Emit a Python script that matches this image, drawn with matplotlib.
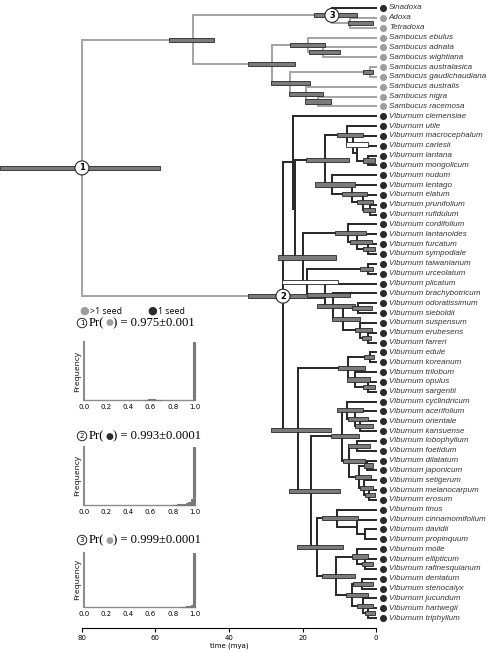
import numpy as np
import matplotlib
matplotlib.use("Agg")
import matplotlib.pyplot as plt
from matplotlib.patches import Rectangle

# ── tips, top to bottom ─────────────────────────────────────────────────────
tips = [
    "Sinadoxa", "Adoxa", "Tetradoxa",
    "Sambucus ebulus", "Sambucus adnata", "Sambucus wightiana",
    "Sambucus australasica", "Sambucus gaudichaudiana", "Sambucus australis",
    "Sambucus nigra", "Sambucus racemosa",
    "Viburnum clemensiae", "Viburnum utile", "Viburnum macrocephalum",
    "Viburnum carlesii", "Viburnum lantana", "Viburnum mongolicum",
    "Viburnum nudum", "Viburnum lentago", "Viburnum elatum",
    "Viburnum prunifolium", "Viburnum rufidulum", "Viburnum cordifolium",
    "Viburnum lantanoides", "Viburnum furcatum", "Viburnum sympodiale",
    "Viburnum taiwanianum", "Viburnum urceolatum", "Viburnum plicatum",
    "Viburnum brachybotricum", "Viburnum odoratissimum", "Viburnum sieboldii",
    "Viburnum suspensum", "Viburnum erubesens", "Viburnum farreri",
    "Viburnum edule", "Viburnum koreanum", "Viburnum trilobum",
    "Viburnum opulus", "Viburnum sargentii", "Viburnum cyclindricum",
    "Viburnum acerifolium", "Viburnum orientale", "Viburnum kansuense",
    "Viburnum lobophyllum", "Viburnum foetidum", "Viburnum dilatatum",
    "Viburnum japonicum", "Viburnum setigerum", "Viburnum melanocarpum",
    "Viburnum erosum", "Viburnum tinus", "Viburnum cinnamomifolium",
    "Viburnum davidii", "Viburnum propinquum", "Viburnum molle",
    "Viburnum ellipticum", "Viburnum rafinesquianum", "Viburnum dentatum",
    "Viburnum stenocalyx", "Viburnum jucundum", "Viburnum hartwegii",
    "Viburnum triphyllum",
]
multi_seed_tips = tips[1:11]   # Adoxa, Tetradoxa and all Sambucus

# ── internal nodes: children, age (mya) and 95% HPD (old, young) ───────────
node_names = [
    "root", "adoxoideae", "node3", "adoxa_tetra", "sambucus", "samb1",
    "samb1b", "samb2", "samb2a", "samb2b", "samb2c",
    "node2", "vib_b", "vib_c", "vib_d", "u1", "u2", "u3", "u4",
    "n1", "n2", "n3", "n4", "vib_e", "f1", "f2", "f3", "g", "h", "i", "j",
    "k", "l", "m", "m2", "vib_lw", "p", "p1", "p2", "p3", "q", "r", "r1",
    "r1b", "r1c", "r2", "r2a", "r2b", "r2c", "r2d", "r2e", "s", "t", "t2",
    "t3", "v", "v1", "v2", "w", "w1", "w2", "w3",
]
node_kids = [
    ("adoxoideae", "node2"), ("node3", "sambucus"), ("Sinadoxa", "adoxa_tetra"),
    ("Adoxa", "Tetradoxa"), ("samb1", "samb2"), ("Sambucus ebulus", "samb1b"),
    ("Sambucus adnata", "Sambucus wightiana"), ("samb2a", "samb2b"),
    ("Sambucus australasica", "Sambucus gaudichaudiana"),
    ("Sambucus australis", "samb2c"), ("Sambucus nigra", "Sambucus racemosa"),
    ("vib_b", "vib_lw"), ("Viburnum clemensiae", "vib_c"), ("vib_d", "vib_e"),
    ("u1", "n1"), ("Viburnum utile", "u2"), ("Viburnum macrocephalum", "u3"),
    ("Viburnum carlesii", "u4"), ("Viburnum lantana", "Viburnum mongolicum"),
    ("Viburnum nudum", "n2"), ("Viburnum lentago", "n3"),
    ("Viburnum elatum", "n4"), ("Viburnum prunifolium", "Viburnum rufidulum"),
    ("f1", "g"), ("Viburnum cordifolium", "f2"), ("Viburnum lantanoides", "f3"),
    ("Viburnum furcatum", "Viburnum sympodiale"), ("h", "i"),
    ("Viburnum taiwanianum", "Viburnum urceolatum"), ("Viburnum plicatum", "j"),
    ("Viburnum brachybotricum", "k"), ("l", "m"),
    ("Viburnum odoratissimum", "Viburnum sieboldii"),
    ("Viburnum suspensum", "m2"), ("Viburnum erubesens", "Viburnum farreri"),
    ("p", "q"), ("p1", "p2"), ("Viburnum edule", "Viburnum koreanum"),
    ("Viburnum trilobum", "p3"), ("Viburnum opulus", "Viburnum sargentii"),
    ("r", "s"), ("r1", "r2"), ("Viburnum cyclindricum", "r1b"),
    ("Viburnum acerifolium", "r1c"), ("Viburnum orientale", "Viburnum kansuense"),
    ("r2a", "r2b"), ("Viburnum lobophyllum", "Viburnum foetidum"),
    ("r2c", "r2d"), ("Viburnum dilatatum", "Viburnum japonicum"),
    ("Viburnum setigerum", "r2e"), ("Viburnum melanocarpum", "Viburnum erosum"),
    ("t", "v"), ("Viburnum tinus", "t2"), ("Viburnum cinnamomifolium", "t3"),
    ("Viburnum davidii", "Viburnum propinquum"), ("v1", "w"),
    ("Viburnum molle", "v2"), ("Viburnum ellipticum", "Viburnum rafinesquianum"),
    ("w1", "w2"), ("Viburnum dentatum", "Viburnum stenocalyx"),
    ("Viburnum jucundum", "w3"), ("Viburnum hartwegii", "Viburnum triphyllum"),
]
node_age = [
    80.0, 49.8, 12.0, 7.1, 28.3, 18.5, 14.4, 23.4, 1.6, 19.0, 15.8,
    25.3, 22.6, 22.0, 13.9, 7.9, 6.3, 5.2, 2.2, 12.0, 6.5, 3.5, 1.6,
    19.9, 7.6, 5.2, 2.2, 18.8, 2.2, 13.9, 11.7, 9.0, 4.9, 4.4, 2.2,
    21.2, 7.6, 1.6, 5.7, 2.2, 17.7, 9.3, 7.9, 5.7, 4.4, 7.3, 5.2, 4.6,
    2.4, 3.3, 1.9, 16.1, 10.6, 5.2, 3.0, 10.9, 5.2, 3.0, 6.5, 3.8, 3.5, 2.2,
]
hpd_old = [
    102.3, 56.3, 16.9, 7.6, 34.8, 23.4, 18.2, 28.6, 3.5, 23.7, 19.3,
    34.8, np.nan, np.nan, 19.0, 10.6, 8.2, np.nan, 3.5, 16.6, 9.3, 5.2, 3.5,
    26.7, 11.2, 7.1, 3.5, 25.6, 4.4, 18.8, 16.1, 12.0, 6.5, 5.7, 3.8,
    28.6, 10.3, 3.3, 7.9, 3.5, 23.7, 12.2, 10.6, 7.6, 5.7, 9.0, 7.6, 5.7,
    3.3, 4.4, 3.0, 21.5, 14.7, np.nan, np.nan, 14.7, 6.5, 3.8, 8.2, 6.3, 5.2, 3.0,
]
hpd_young = [
    58.8, 44.1, 5.2, 0.8, 22.0, 13.9, 9.8, 18.0, 0.8, 14.4, 12.2,
    14.4, np.nan, np.nan, 7.3, 3.5, 2.2, np.nan, 0.3, 5.7, 2.4, 0.8, 0.3,
    10.9, 2.7, 1.1, 0.3, 10.3, 0.8, 7.1, 5.7, 4.4, 1.1, 1.1, 1.4,
    12.2, 3.0, 0.5, 1.6, 0.3, 9.8, 4.6, 3.5, 2.2, 0.8, 3.0, 1.6, 1.4,
    0.8, 0.8, 0.3, 9.0, 4.9, np.nan, np.nan, 5.7, 2.2, 0.8, 2.2, 0.8, 0.8, 0.3,
]
open_bar_nodes = ["u2", "g"]
grey_branches = multi_seed_tips + [
    "adoxoideae", "node3", "adoxa_tetra", "sambucus", "samb1", "samb1b",
    "samb2", "samb2a", "samb2b", "samb2c", "node2",
]
numbered_nodes = {"root": "1", "node2": "2", "node3": "3"}

# ── ancestral-state histograms (bin left edge, relative frequency) ──────────
hist_titles = ["0.975\u00b10.001", "0.993\u00b10.0001", "0.999\u00b10.0001"]
hist_state_multi = [True, False, True]
hist1_left = [0.54, 0.56, 0.58, 0.60, 0.62, 0.64, 0.66, 0.68, 0.98]
hist1_freq = [0.005, 0.008, 0.01, 0.012, 0.01, 0.008, 0.006, 0.004, 1.0]
hist2_left = [0.78, 0.80, 0.82, 0.84, 0.86, 0.88, 0.90, 0.92, 0.94, 0.96, 0.98]
hist2_freq = [0.004, 0.006, 0.008, 0.01, 0.013, 0.017, 0.022, 0.03, 0.05, 0.11, 1.0]
hist3_left = [0.86, 0.88, 0.90, 0.92, 0.94, 0.96, 0.98]
hist3_freq = [0.004, 0.005, 0.007, 0.01, 0.015, 0.04, 1.0]
BIN_W = 0.02

GREY = "#a3a3a3"
DARK = "#262626"
BAR = "#7b7b7b"
W, H = 496, 652


def fx(px):
    return px / W


def fy(py):
    return 1 - py / H


kids = dict(zip(node_names, node_kids))
age = {t: 0.0 for t in tips}
age.update(dict(zip(node_names, node_age)))
ypos = {t: float(i) for i, t in enumerate(tips)}


def place(n):
    if n not in ypos:
        a, b = kids[n]
        ypos[n] = (place(a) + place(b)) / 2
    return ypos[n]


place("root")

fig = plt.figure(figsize=(W / 100, H / 100), dpi=100)
ax = fig.add_axes([0, 0, 1, 1])
ax.set_xlim(102.3, -32.65)
ax.set_ylim(65.45, -0.813)
ax.axis("off")

# branches
for n in node_names:
    for c in kids[n]:
        col = GREY if c in grey_branches else DARK
        ax.plot([age[n], age[n], age[c]], [ypos[n], ypos[c], ypos[c]],
                color=col, lw=1.4, solid_joinstyle="miter",
                solid_capstyle="projecting", zorder=1)

# HPD bars
for n, old, young in zip(node_names, hpd_old, hpd_young):
    if np.isnan(old):
        continue
    face = "white" if n in open_bar_nodes else BAR
    ax.barh(ypos[n], old - young, left=young, height=0.42, color=face,
            edgecolor=DARK, linewidth=0.6, zorder=2)

# numbered nodes
for n, lab in numbered_nodes.items():
    ax.text(age[n], ypos[n], lab, ha="center", va="center", fontsize=6,
            fontweight="bold", family="DejaVu Sans", zorder=4,
            bbox=dict(boxstyle="circle,pad=0.3", fc="white", ec=DARK, lw=0.8))

# tip dots and names
for t in tips:
    col = "#9e9e9e" if t in multi_seed_tips else "#2b2b2b"
    ax.scatter(-1.9, ypos[t], s=26, color=col, zorder=3, linewidths=0)
    ax.text(-3.5, ypos[t], t, ha="left", va="center", fontsize=5.8,
            style="italic", family="Liberation Sans", color="#333333")

# time axis
tax = fig.add_axes([fx(82), fy(628), fx(376) - fx(82), 0.001])
tax.set_xlim(80, 0)
tax.set_yticks([])
for sp in ["left", "right", "top"]:
    tax.spines[sp].set_visible(False)
tax.spines["bottom"].set_linewidth(0.8)
tax.set_xticks([80, 60, 40, 20, 0])
tax.tick_params(axis="x", length=3, width=0.8, pad=2, labelsize=5)
tax.set_xlabel("time (mya)", fontsize=5, labelpad=1)
tax.patch.set_alpha(0)

# legend
fig.text(fx(84), fy(311), "\u25cf", color="#9e9e9e", fontsize=8,
         ha="center", va="center")
fig.text(fx(89.5), fy(311), ">1 seed", fontsize=6.3, ha="left", va="center",
         family="Open Sans")
fig.text(fx(152), fy(311), "\u25cf", color="#2b2b2b", fontsize=8,
         ha="center", va="center")
fig.text(fx(157.5), fy(311), "1 seed", fontsize=6.3, ha="left", va="center",
         family="Open Sans")

# histogram insets
hist_lefts = [hist1_left, hist2_left, hist3_left]
hist_freqs = [hist1_freq, hist2_freq, hist3_freq]
title_y = [323, 436, 540]
boxes = [(84, 342, 111, 58), (84, 447, 111, 58), (84, 553, 111, 54)]
renderer = fig.canvas.get_renderer()
for k in range(3):
    l, tp, w, h = boxes[k]
    hax = fig.add_axes([fx(l), fy(tp + h), w / W, h / H])
    hax.set_xlim(0, 1)
    hax.set_ylim(0, 1.0)
    for x0, f in zip(hist_lefts[k], hist_freqs[k]):
        hax.add_patch(Rectangle((x0, 0), BIN_W, f, facecolor="#7a7a7a",
                                edgecolor="#7a7a7a", linewidth=0.8,
                                clip_on=False, zorder=3))
    hax.patch.set_alpha(0)
    for sp in ["right", "top"]:
        hax.spines[sp].set_visible(False)
    hax.spines["left"].set_color("#8c8c8c")
    hax.spines["left"].set_linewidth(1.5)
    hax.spines["bottom"].set_color("#8c8c8c")
    hax.spines["bottom"].set_linewidth(1.0)
    hax.set_yticks([])
    hax.set_xticks([0.0, 0.2, 0.4, 0.6, 0.8, 1.0])
    hax.tick_params(axis="x", length=0, pad=3, labelsize=5)
    hax.set_ylabel("Frequency", fontsize=6, labelpad=2, family="Open Sans")

    # title: circled number, "Pr(", coloured dot, ") = value"
    ty = title_y[k]
    fig.text(fx(82), fy(ty), str(k + 1), ha="center", va="center", fontsize=5,
             family="DejaVu Sans",
             bbox=dict(boxstyle="circle,pad=0.25", fc="white", ec=DARK, lw=0.7))
    t1 = fig.text(fx(89), fy(ty), "Pr(", ha="left", va="center", fontsize=9.1,
                  family="Liberation Serif")
    x_end = t1.get_window_extent(renderer).x1
    dot = "#9e9e9e" if hist_state_multi[k] else "#2b2b2b"
    t2 = fig.text((x_end + 0.5) / W, fy(ty), "\u25cf", ha="left", va="center",
                  fontsize=6.5, color=dot)
    x_end = t2.get_window_extent(renderer).x1
    fig.text((x_end + 0.5) / W, fy(ty), ") = " + hist_titles[k], ha="left",
             va="center", fontsize=9.1, family="Liberation Serif")

fig.savefig("out.png", dpi=100)
